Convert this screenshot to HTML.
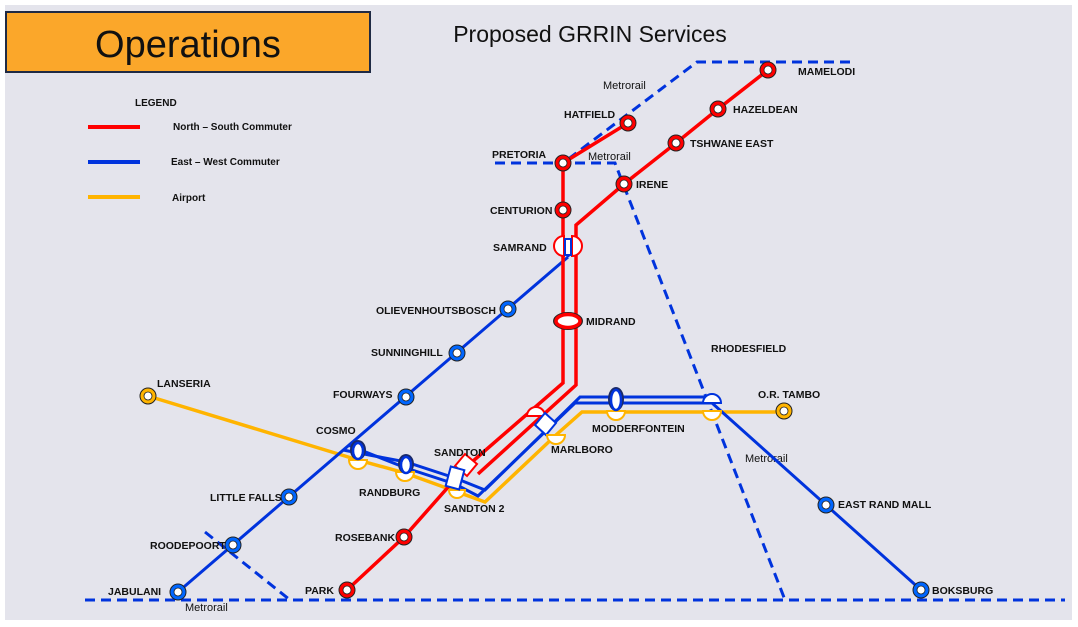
<!DOCTYPE html>
<html><head><meta charset="utf-8"><style>
html,body{margin:0;padding:0;background:#fff;width:1078px;height:627px;overflow:hidden}
svg{display:block}
text{font-family:"Liberation Sans",sans-serif;font-weight:bold;font-size:10.5px;fill:#111}
.m{font-weight:normal;font-size:11px}
</style></head><body>
<svg width="1078" height="627" viewBox="0 0 1078 627">
<rect x="5" y="5" width="1067" height="615" fill="#e4e4ec"/>
<rect x="6" y="12" width="364" height="60" fill="#fba72a" stroke="#1f2a44" stroke-width="2"/>
<text x="188" y="57" text-anchor="middle" style="font-weight:normal;font-size:38px">Operations</text>
<text x="590" y="42" text-anchor="middle" style="font-weight:normal;font-size:23px">Proposed GRRIN Services</text>
<text x="135" y="106" style="font-size:10px">LEGEND</text>
<line x1="88" y1="127" x2="140" y2="127" stroke="#f00" stroke-width="4"/>
<line x1="88" y1="162" x2="140" y2="162" stroke="#0033dd" stroke-width="4"/>
<line x1="88" y1="197" x2="140" y2="197" stroke="#ffb400" stroke-width="4"/>
<text x="173" y="130" style="font-size:10px">North – South Commuter</text>
<text x="171" y="165" style="font-size:10px">East – West Commuter</text>
<text x="172" y="201" style="font-size:10px">Airport</text>

<g fill="none" stroke="#0033dd" stroke-width="3" stroke-dasharray="10,6">
<polyline points="850,62 697,62 563,163"/>
<polyline points="495,163 615,163 785,600"/>
<line x1="205" y1="532" x2="290" y2="600"/>
<line x1="85" y1="600" x2="1065" y2="600"/>
</g>
<text class="m" x="603" y="89">Metrorail</text><text class="m" x="588" y="160">Metrorail</text><text class="m" x="745" y="462">Metrorail</text><text class="m" x="185" y="611">Metrorail</text>

<polyline points="148,396 358,460 405,473 452,490 485,502 556,435 582,412 784,412" fill="none" stroke="#ffb400" stroke-width="3.5"/>
<g fill="none" stroke="#0033dd" stroke-width="3">
<line x1="178" y1="592" x2="568" y2="257"/>
<line x1="568" y1="257" x2="568" y2="240"/>
<polyline points="343,450 406,462 455,478 485,490 580,397 712,397"/>
<polyline points="348,445 406,468 455,484 478,496 575,403 712,403 921,590"/>
</g>
<g fill="none" stroke="#f00" stroke-width="3.5">
<polyline points="347,590 404,537 465,468 563,383 563,163 628,123"/>
<polyline points="478,474 576,385 576,225 624,184 676,143 718,109 768,70"/>
</g>
<g stroke-width="2">
<path d="M554,246a10,10 0 0 1 10,-10v20a10,10 0 0 1 -10,-10z" fill="#fff" stroke="#f00"/>
<path d="M582,246a10,10 0 0 0 -10,-10v20a10,10 0 0 0 10,-10z" fill="#fff" stroke="#f00"/>
<rect x="565" y="239" width="6" height="16" fill="#fff" stroke="#0033dd"/>
<ellipse cx="568" cy="321" rx="15" ry="9" fill="#222"/>
<ellipse cx="568" cy="321" rx="12" ry="6.5" fill="#fff" stroke="#f00" stroke-width="3.5"/>
<path d="M465,454 l12,10 -10,12 -12,-10z" fill="#fff" stroke="#f00"/>
<path d="M527,416a9,9 0 0 1 18,0z" fill="#fff" stroke="#f00"/>
<path d="M545,413 l11,10 -10,12 -11,-10z" fill="#fff" stroke="#0033dd"/>
<path d="M449,490a8,8 0 0 0 16,0z" fill="#fff" stroke="#ffb400"/>
<rect x="448" y="468" width="14" height="20" fill="#fff" stroke="#0033dd" transform="rotate(15 455 478)"/>
<path d="M349,460a9,9 0 0 0 18,0z" fill="#fff" stroke="#ffb400"/>
<path d="M396,472a9,9 0 0 0 18,0z" fill="#fff" stroke="#ffb400"/>
<path d="M547,435a9,9 0 0 0 18,0z" fill="#fff" stroke="#ffb400"/>
<path d="M607,411a9,9 0 0 0 18,0z" fill="#fff" stroke="#ffb400"/>
<path d="M703,411a9,9 0 0 0 18,0z" fill="#fff" stroke="#ffb400"/>
<path d="M703,403a9,9 0 0 1 18,0z" fill="#fff" stroke="#0033dd"/>
<ellipse cx="358" cy="450" rx="8" ry="10" fill="#1a2a6a"/>
<ellipse cx="358" cy="451" rx="5" ry="8" fill="#fff" stroke="#0033dd" stroke-width="2.5"/>
<ellipse cx="406" cy="464" rx="8" ry="10" fill="#1a2a6a"/>
<ellipse cx="406" cy="465" rx="5" ry="8" fill="#fff" stroke="#0033dd" stroke-width="2.5"/>
<ellipse cx="616" cy="399" rx="8" ry="12" fill="#1a2a6a"/>
<ellipse cx="616" cy="400" rx="5" ry="10" fill="#fff" stroke="#0033dd" stroke-width="2.5"/>
</g>
<g stroke="#222" stroke-width="1">
<g fill="#f00">
<circle cx="768" cy="70" r="8"/><circle cx="718" cy="109" r="8"/><circle cx="676" cy="143" r="8"/>
<circle cx="624" cy="184" r="8"/><circle cx="628" cy="123" r="8"/><circle cx="563" cy="163" r="8"/>
<circle cx="563" cy="210" r="8"/><circle cx="404" cy="537" r="8"/><circle cx="347" cy="590" r="8"/>
</g>
<g fill="#0066ff">
<circle cx="508" cy="309" r="8"/><circle cx="457" cy="353" r="8"/><circle cx="406" cy="397" r="8"/>
<circle cx="289" cy="497" r="8"/><circle cx="233" cy="545" r="8"/><circle cx="178" cy="592" r="8"/>
<circle cx="826" cy="505" r="8"/><circle cx="921" cy="590" r="8"/>
</g>
<g fill="#ffb400"><circle cx="148" cy="396" r="8"/><circle cx="784" cy="411" r="8"/></g>
<g fill="#fff" stroke-width="0.8">
<circle cx="768" cy="70" r="4"/><circle cx="718" cy="109" r="4"/><circle cx="676" cy="143" r="4"/>
<circle cx="624" cy="184" r="4"/><circle cx="628" cy="123" r="4"/><circle cx="563" cy="163" r="4"/>
<circle cx="563" cy="210" r="4"/><circle cx="404" cy="537" r="4"/><circle cx="347" cy="590" r="4"/>
<circle cx="508" cy="309" r="4"/><circle cx="457" cy="353" r="4"/><circle cx="406" cy="397" r="4"/>
<circle cx="289" cy="497" r="4"/><circle cx="233" cy="545" r="4"/><circle cx="178" cy="592" r="4"/>
<circle cx="826" cy="505" r="4"/><circle cx="921" cy="590" r="4"/>
<circle cx="148" cy="396" r="4"/><circle cx="784" cy="411" r="4"/>
</g>
</g>
<text x="798" y="75">MAMELODI</text><text x="733" y="113">HAZELDEAN</text>
<text x="690" y="147">TSHWANE EAST</text><text x="636" y="188">IRENE</text>
<text x="564" y="118">HATFIELD</text><text x="492" y="158">PRETORIA</text>
<text x="490" y="214">CENTURION</text><text x="493" y="251">SAMRAND</text>
<text x="586" y="325">MIDRAND</text><text x="376" y="314" textLength="120">OLIEVENHOUTSBOSCH</text>
<text x="371" y="356">SUNNINGHILL</text><text x="333" y="398">FOURWAYS</text>
<text x="316" y="434">COSMO</text><text x="210" y="501">LITTLE FALLS</text>
<text x="150" y="549">ROODEPOORT</text><text x="108" y="595">JABULANI</text>
<text x="157" y="387">LANSERIA</text><text x="359" y="496">RANDBURG</text>
<text x="434" y="456">SANDTON</text><text x="444" y="512">SANDTON 2</text>
<text x="551" y="453">MARLBORO</text><text x="592" y="432">MODDERFONTEIN</text>
<text x="711" y="352">RHODESFIELD</text><text x="758" y="398">O.R. TAMBO</text>
<text x="838" y="508">EAST RAND MALL</text><text x="932" y="594">BOKSBURG</text>
<text x="335" y="541">ROSEBANK</text><text x="305" y="594">PARK</text>
</svg>
</body></html>
